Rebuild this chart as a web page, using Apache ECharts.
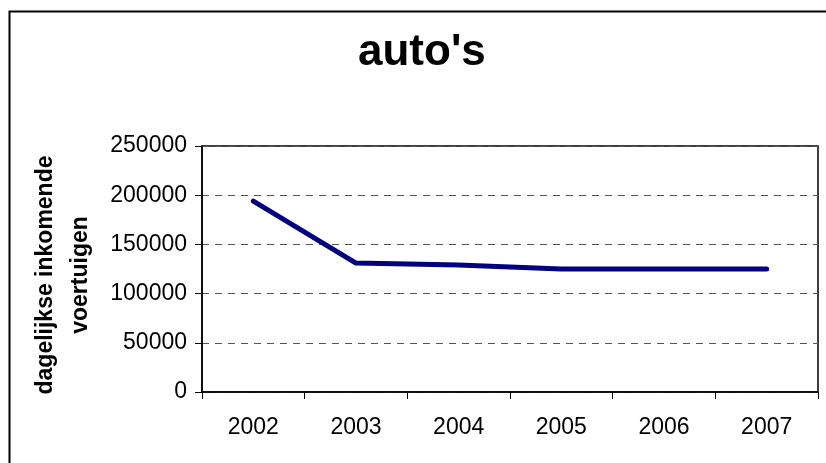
<!DOCTYPE html>
<html>
<head>
<meta charset="utf-8">
<script src="https://cdn.jsdelivr.net/npm/echarts@6/dist/echarts.min.js"></script>
<style>
  html, body { margin: 0; padding: 0; background: #fff; }
  #chart { width: 826px; height: 463px; }
</style>
</head>
<body>
<div id="chart"></div>
<script>
// Daily incoming cars per year
const years = ['2002', '2003', '2004', '2005', '2006', '2007'];
const cars = [194000, 131000, 129000, 125000, 125000, 125000];
const yTicks = [0, 50000, 100000, 150000, 200000, 250000];

const font = '"Liberation Sans", Arial, sans-serif';
const chart = echarts.init(document.getElementById('chart'), null, { renderer: 'canvas' });

chart.setOption({
  backgroundColor: '#fff',
  animation: false,
  title: {
    text: "auto's",
    left: 358,
    top: 31,
    padding: 0,
    textStyle: { fontFamily: font, fontSize: 44, fontWeight: 'bold', color: '#000' }
  },
  graphic: [{
    type: 'rect',
    left: 7, top: 9,
    shape: { width: 840, height: 480 },
    style: { fill: 'none', stroke: '#000', lineWidth: 2 }
  }],
  grid: {
    left: 202, top: 146, right: 8, bottom: 71,
    containLabel: false,
    outerBoundsMode: 'none',
    show: true, borderColor: '#000', borderWidth: 1.5, backgroundColor: 'transparent'
  },
  xAxis: {
    type: 'category',
    data: years,
    boundaryGap: true,
    axisLine: { lineStyle: { color: '#000', width: 1.5 } },
    axisTick: { show: true, length: 7, inside: false, alignWithLabel: false, lineStyle: { color: '#000', width: 1 } },
    axisLabel: { margin: 24, fontFamily: font, fontSize: 23, color: '#000' },
    splitLine: { show: false }
  },
  yAxis: {
    type: 'value',
    min: yTicks[0],
    max: yTicks[yTicks.length - 1],
    interval: yTicks[1] - yTicks[0],
    name: 'dagelijkse inkomende\nvoertuigen',
    nameLocation: 'middle',
    nameGap: 104,
    nameRotate: 90,
    nameTextStyle: {
      fontFamily: font, fontSize: 23, fontWeight: 'bold', color: '#000',
      lineHeight: 35, align: 'center', padding: [0, 12, 0, 0]
    },
    axisLine: { show: true, lineStyle: { color: '#000', width: 1.5 } },
    axisTick: { show: true, length: 7, lineStyle: { color: '#000', width: 1 } },
    axisLabel: {
      margin: 15, fontFamily: font, fontSize: 23, color: '#000',
      formatter: (v) => String(v)
    },
    splitLine: { show: true, lineStyle: { color: '#555', width: 1, type: [7, 6] } }
  },
  series: [{
    type: 'line',
    data: cars,
    showSymbol: false,
    symbol: 'none',
    lineStyle: { color: '#000080', width: 5, cap: 'round', join: 'round' },
    z: 3
  }]
});
</script>
</body>
</html>
